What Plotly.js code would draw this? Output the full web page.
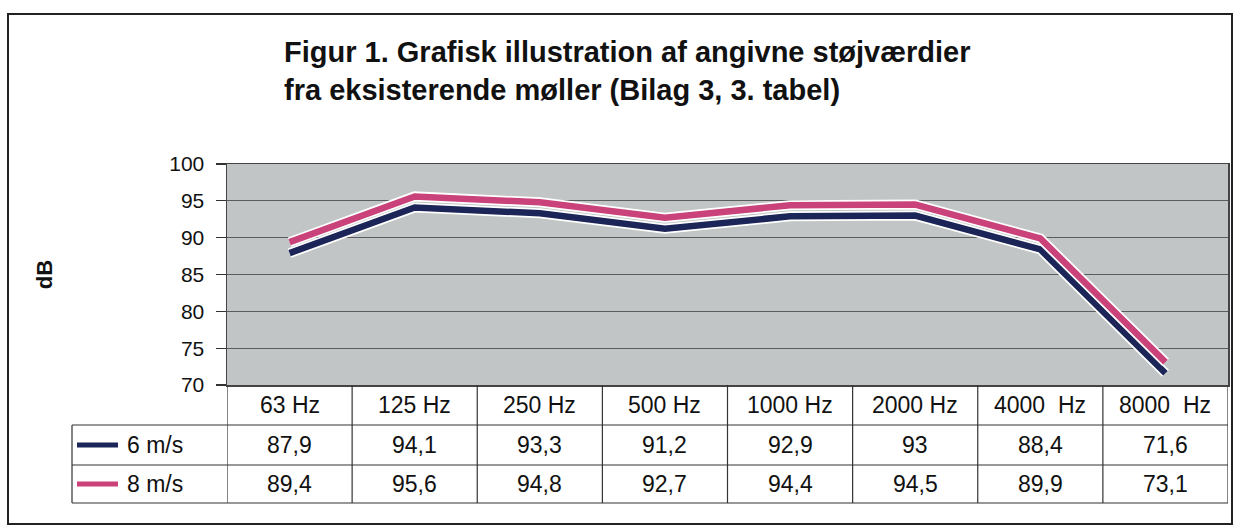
<!DOCTYPE html>
<html>
<head>
<meta charset="utf-8">
<script src="https://cdn.plot.ly/plotly-3.0.1.min.js"></script>
<style>html,body{margin:0;padding:0;background:#fff;}#chart{width:1235px;height:528px;}</style>
</head>
<body>
<div id="chart"></div>
<script>
const categories = ['63 Hz','125 Hz','250 Hz','500 Hz','1000 Hz','2000 Hz','4000\u00a0 Hz','8000\u00a0 Hz'];
const seriesNames = ['6 m/s','8 m/s'];
const values6 = [87.9,94.1,93.3,91.2,92.9,93,88.4,71.6];
const values8 = [89.4,95.6,94.8,92.7,94.4,94.5,89.9,73.1];
const yTicks = [70,75,80,85,90,95,100];

const NAVY = '#1c2557';
const PINK = '#c9427a';
const FONT = 'Liberation Sans, Arial, sans-serif';

const W = 1235, H = 528;
const M = {l:227, r:7, t:164, b:143};
const PH = H - M.t - M.b, PW = W - M.l - M.r;
const py = px => (H - M.b - px) / PH;
const pxX = px => (px - M.l) / PW;

const traces = [];
function addLine(vals, color, name){
  traces.push({x:categories, y:vals, type:'scatter', mode:'lines', hoverinfo:'skip', showlegend:false,
    line:{color:'#ffffff', width:10}});
  traces.push({x:categories, y:vals, type:'scatter', mode:'lines', name:name, showlegend:false,
    line:{color:color, width:6.5}});
}
addLine(values6, NAVY, seriesNames[0]);
addLine(values8, PINK, seriesNames[1]);

const shapes = [];
const annotations = [];
const lineCol = '#333';
const TF = {family:FONT, size:23, color:'#111'};
shapes.push({type:'line', xref:'paper', yref:'paper', x0:pxX(72), x1:1, y0:py(425), y1:py(425), line:{color:lineCol,width:1.2}});
shapes.push({type:'line', xref:'paper', yref:'paper', x0:pxX(72), x1:1, y0:py(465), y1:py(465), line:{color:lineCol,width:1.2}});
shapes.push({type:'line', xref:'paper', yref:'paper', x0:pxX(72), x1:1, y0:py(503), y1:py(503), line:{color:lineCol,width:1.2}});
for (let i = 0; i <= categories.length; i++) {
  shapes.push({type:'line', xref:'x', yref:'paper', x0:i-0.5, x1:i-0.5, y0:0, y1:py(503), line:{color:lineCol,width:1.2}});
}
shapes.push({type:'line', xref:'paper', yref:'paper', x0:pxX(72), x1:pxX(72), y0:py(425), y1:py(503), line:{color:lineCol,width:1.2}});
[[NAVY,445],[PINK,484]].forEach(([c,y]) => {
  shapes.push({type:'line', xref:'paper', yref:'paper', x0:pxX(77), x1:pxX(118), y0:py(y), y1:py(y), line:{color:c,width:5}});
});
seriesNames.forEach((n,k) => {
  annotations.push({xref:'paper', yref:'paper', x:pxX(125), y:py([445,484][k]), text:n, showarrow:false,
    xanchor:'left', yanchor:'middle', font:TF});
});
const fmt = v => String(v).replace('.', ',');
categories.forEach((c,i) => {
  annotations.push({xref:'x', yref:'paper', x:c, y:py(405), text:c, showarrow:false, yanchor:'middle', font:TF});
  annotations.push({xref:'x', yref:'paper', x:c, y:py(445), text:fmt(values6[i]), showarrow:false, yanchor:'middle', font:TF});
  annotations.push({xref:'x', yref:'paper', x:c, y:py(484), text:fmt(values8[i]), showarrow:false, yanchor:'middle', font:TF});
});
shapes.push({type:'rect', xref:'paper', yref:'paper', x0:pxX(8), x1:pxX(1232), y0:py(524), y1:py(14),
  line:{color:'#222', width:2}, layer:'below'});

const layout = {
  width:W, height:H,
  margin:M,
  paper_bgcolor:'#ffffff',
  plot_bgcolor:'#c2c5c5',
  showlegend:false,
  title:{text:'<b>Figur 1. Grafisk illustration af angivne støjværdier<br>fra eksisterende møller (Bilag 3, 3. tabel)</b>',
    x:284/W, xanchor:'left', xref:'container', y:1-62/H, yanchor:'top', yref:'container',
    font:{family:FONT, size:29, color:'#111'}},
  xaxis:{type:'category', range:[-0.5, categories.length-0.5], showticklabels:false, ticks:'',
    showgrid:false, zeroline:false, showline:true, linecolor:'#444', linewidth:1.5, mirror:true, fixedrange:true},
  yaxis:{range:[70,100], tickvals:yTicks, ticks:'outside', ticklen:10, tickcolor:'#333', tickwidth:1.2,
    tickfont:{family:FONT, size:21, color:'#111'}, showgrid:true, gridcolor:'#5a5d5d', gridwidth:1.2,
    zeroline:false, showline:true, linecolor:'#444', linewidth:1.5, mirror:true, ticklabelstandoff:7,
    title:{text:'<b>dB</b>', font:{family:FONT, size:22, color:'#111'}, standoff:110}, fixedrange:true},
  shapes:shapes,
  annotations:annotations
};
Plotly.newPlot('chart', traces, layout, {displayModeBar:false, staticPlot:true});
</script>
</body>
</html>
